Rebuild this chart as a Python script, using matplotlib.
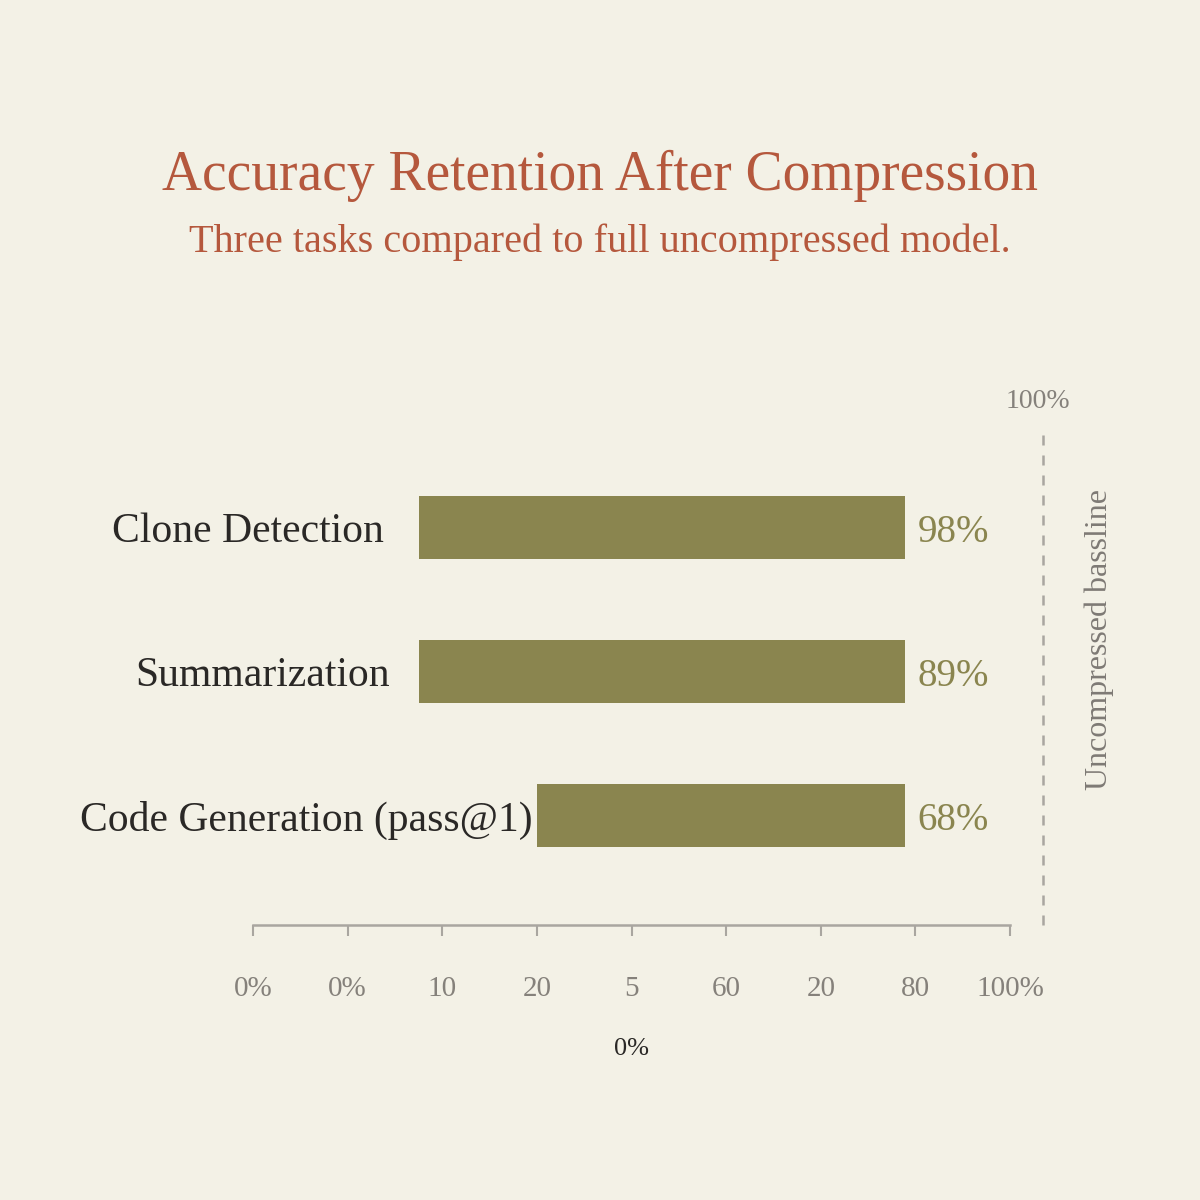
import matplotlib
matplotlib.use("Agg")
import matplotlib.pyplot as plt

# ---- data ----
categories = ["Clone Detection", "Summarization", "Code Generation (pass@1)"]
retention = [98, 89, 68]                  # value labels
bar_start = [21.9, 21.9, 37.5]            # bar left edge on the axis scale
bar_end = [86.1, 86.1, 86.1]              # bar right edge on the axis scale
tick_pos = [0, 12.5, 25, 37.5, 50, 62.5, 75, 87.5, 100]
tick_labels = ["0%", "0%", "10", "20", "5", "60", "20", "80", "100%"]
baseline_x = 104.4
label_gap_pt = [25, 21, 3]

BG = "#F3F1E6"
BAR = "#8A854F"
TITLE = "#B5583D"
GRAY = "#85817B"
DARK = "#2A2826"

FONT = ["Liberation Serif", "DejaVu Serif"]
plt.rcParams["font.family"] = FONT

fig = plt.figure(figsize=(12, 12), dpi=100, facecolor=BG)
W = H = 1200
ax_left, ax_right = 253 / W, 1010 / W
ax_bottom, ax_top = 1 - 925 / H, 1 - 427 / H
ax = fig.add_axes([ax_left, ax_bottom, ax_right - ax_left, ax_top - ax_bottom])
ax.set_facecolor("none")

ypos = [2, 1, 0]
widths = [e - s for s, e in zip(bar_start, bar_end)]
ax.barh(ypos, widths, left=bar_start, height=0.4375, color=BAR, zorder=2)

ax.set_xlim(0, 100)
ax.set_ylim(-0.757, 2.7)

for sp in ["top", "right", "left"]:
    ax.spines[sp].set_visible(False)
ax.spines["bottom"].set_color("#A9A6A0")
ax.spines["bottom"].set_linewidth(1.8)
ax.set_yticks([])
ax.set_xticks(tick_pos)
ax.set_xticklabels(tick_labels)
ax.tick_params(axis="x", direction="out", length=8, width=1.5, color="#A9A6A0",
               pad=28.5, labelsize=21, labelcolor=GRAY)

# category labels
for y, s, lab, g in zip(ypos, bar_start, categories, label_gap_pt):
    ax.annotate(lab, xy=(s, y), xytext=(-g, -3), textcoords="offset points",
                ha="right", va="center", fontsize=30, color=DARK)

# value labels
for y, e, v in zip(ypos, bar_end, retention):
    ax.annotate(f"{v}%", xy=(e, y), xytext=(9, -3), textcoords="offset points",
                ha="left", va="center", fontsize=28, color=BAR)

# baseline
ax.plot([baseline_x, baseline_x], [-0.757, 2.7], ls=(0, (4, 4)), color="#A9A6A0",
        lw=1.8, clip_on=False)
ax.annotate("100%", xy=(baseline_x, 2.7), xytext=(-4, 18.5), textcoords="offset points",
            ha="center", va="center", fontsize=20, color=GRAY, annotation_clip=False)
ax.annotate("Uncompressed bassline", xy=(baseline_x, 1.0), xytext=(40, 23),
            textcoords="offset points", ha="center", va="center", rotation=90,
            fontsize=23, color="#7E7A75", annotation_clip=False)

# stray "0%" below the axis
ax.annotate("0%", xy=(50, -0.757), xytext=(0, -89), textcoords="offset points",
            ha="center", va="center", fontsize=19, color=DARK, annotation_clip=False)

fig.text(0.5, 1 - 176 / H, "Accuracy Retention After Compression", ha="center",
         va="center", fontsize=40, color=TITLE)
fig.text(0.5, 1 - 242 / H, "Three tasks compared to full uncompressed model.",
         ha="center", va="center", fontsize=29, color=TITLE)

fig.savefig("out.png", dpi=100, facecolor=BG)
